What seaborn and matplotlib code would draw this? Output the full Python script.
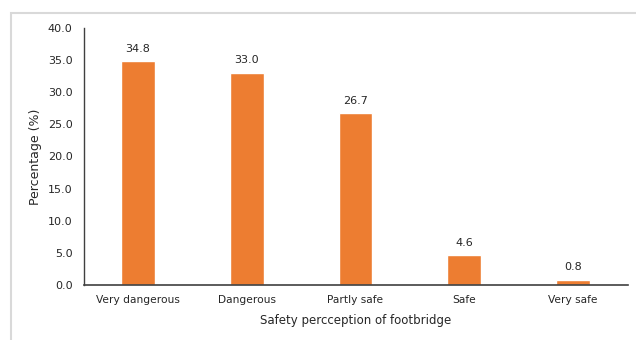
import matplotlib
matplotlib.use("Agg")
import matplotlib.pyplot as plt
import seaborn as sns
import pandas as pd
from matplotlib.patches import Rectangle

categories = ["Very dangerous", "Dangerous", "Partly safe", "Safe", "Very safe"]
percentages = [34.8, 33.0, 26.7, 4.6, 0.8]

sns.set_theme(style="white")
plt.rcParams["font.family"] = ["DejaVu Sans"]

df = pd.DataFrame({"category": categories, "pct": percentages})

fig = plt.figure(figsize=(6.36, 3.4), dpi=100)
ax = fig.add_axes([83.5 / 636, 1 - 285 / 340, (627.5 - 83.5) / 636, (285 - 28) / 340])

# light grey frame around the chart area
fig.patches.append(Rectangle((11 / 636, -0.1), 1.2, (340 - 13) / 340 + 0.1,
                             transform=fig.transFigure, fill=False,
                             edgecolor="#d9d9d9", linewidth=1.5, zorder=0))

sns.barplot(data=df, x="category", y="pct", color="#ED7D31", saturation=1,
            width=0.31, ax=ax)

for i, v in enumerate(percentages):
    ax.text(i, v + 1.2, f"{v:.1f}", ha="center", va="bottom", fontsize=8, color="#262626")

ax.set_ylim(0, 40)
ax.set_yticks(range(0, 41, 5))
ax.set_yticklabels([f"{t:.1f}" for t in range(0, 41, 5)], fontsize=8, color="#262626")
ax.tick_params(axis="x", labelsize=7.7, colors="#262626", length=0, pad=7)
ax.tick_params(axis="y", length=0, pad=8)
ax.set_xlabel("Safety percception of footbridge", fontsize=8.5, color="#262626", labelpad=7)
ax.set_ylabel("Percentage (%)", fontsize=9, color="#262626", labelpad=4)

for s in ["top", "right"]:
    ax.spines[s].set_visible(False)
ax.spines["left"].set_color("#404040")
ax.spines["bottom"].set_color("#404040")
ax.spines["left"].set_linewidth(1)
ax.spines["bottom"].set_linewidth(1.2)

fig.savefig("out.png", dpi=100)
